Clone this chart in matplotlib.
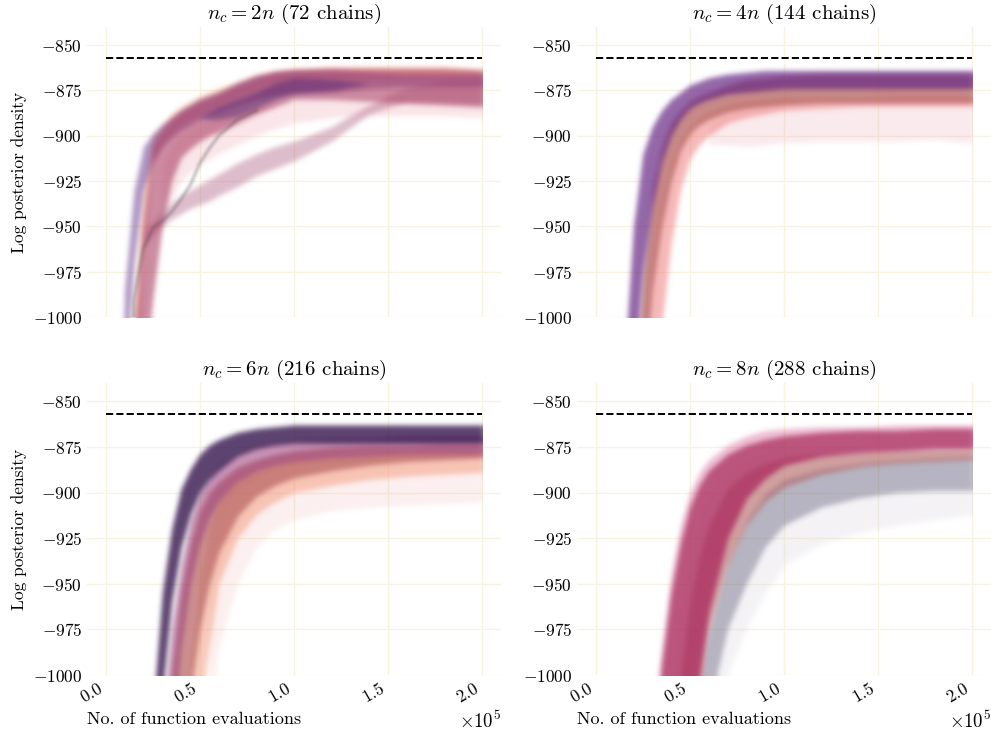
import numpy as np
import matplotlib
matplotlib.use("Agg")
import matplotlib.pyplot as plt
from matplotlib.colors import to_rgb

N = np.nan

# function evaluations, in units of 1e5
EVALS = [0.0, 0.05, 0.10, 0.15, 0.20, 0.25, 0.30, 0.35, 0.40, 0.45, 0.50,
         0.55, 0.60, 0.70, 0.80, 0.90, 1.00, 1.20, 1.40, 1.60, 1.80, 2.00]
SCALE = 1e5
REF_LOGP = -857.0

TITLES = [r"$n_c = 2n$ (72 chains)", r"$n_c = 4n$ (144 chains)",
          r"$n_c = 6n$ (216 chains)", r"$n_c = 8n$ (288 chains)"]

# --- nc = 2n : envelopes of the chain bundles (log posterior) ---
p1_purple_hi = [-1200, -1200, -985, -930, -906, -899, -894, -890, -886, -883, -880,
                -878, -876, -871, -867, -865, -864, -864, -865, -866, -866, -866]
p1_purple_lo = [-1200, -1200, -1040, -970, -930, -915, -906, -901, -897, -894, -891,
                -889, -887, -883, -880, -878, -876, -876, -874, -873, -873, -873]
p1_main_hi = [-1200, -1200, -1200, -1010, -945, -905, -897, -891, -887, -884, -881,
              -879, -877, -872, -868, -865, -864, -863, -863, -863, -863, -864]
p1_main_lo = [-1200, -1200, -1200, -1200, -1040, -990, -950, -925, -912, -907, -903,
              -900, -898, -893, -888, -884, -880, -880, -881, -882, -883, -884]
p1_peach_hi = [-1200, -1200, -1200, -1000, -930, -900, -894, -888, -884, -881, -878,
               -876, -874, -870, -866, -864, -863, -862, -862, -862, -862, -863]
p1_peach_lo = [-1200, -1200, -1200, -1100, -970, -915, -904, -898, -894, -891, -888,
               -885, -883, -878, -874, -871, -869, -869, -869, -869, -869, -870]
p1_core_hi = [N, N, N, N, N, N, N, N, N, N, -890,
              -887, -884, -880, -876, -871, -868, -869, -871, N, N, N]
p1_core_lo = [N, N, N, N, N, N, N, N, N, N, -890,
              -891, -891, -889, -885, -880, -877, -875, -871, N, N, N]
p1_branch_hi = [N, N, N, N, -952, -947, -942, -937, -933, -930, -927,
                -924, -921, -915, -910, -906, -903, -895, -883, -873, -869, -869]
p1_branch_lo = [N, N, N, N, -962, -955, -950, -946, -943, -940, -938,
                -936, -933, -928, -922, -918, -914, -903, -888, -881, -881, -882]
p1_haze_hi = [N, N, N, N, N, N, -915, -905, -900, -896, -893,
              -891, -889, -886, -884, -882, -880, -879, -879, -880, -880, -881]
p1_haze_lo = [N, N, N, N, N, N, -945, -935, -925, -920, -916,
              -913, -910, -905, -900, -896, -893, -890, -889, -889, -889, -890]
p1_grey = [-1200, -1200, -1200, -990, -962, -951, -947, -942, -935, -927, -915,
           -907, -900, -891, -886, N, N, N, N, N, N, N]

# --- nc = 4n ---
p2_purple_hi = [-1200, -1200, -1200, -1030, -950, -910, -895, -886, -880, -876, -872,
                -870, -868, -866, -865, -864, -864, -864, -864, -864, -864, -864]
p2_purple_lo = [-1200, -1200, -1200, -1200, -1040, -975, -940, -915, -900, -891, -885,
                -882, -880, -877, -876, -875, -874, -874, -874, -874, -874, -874]
p2_brown_hi = [-1200, -1200, -1200, -1200, -1060, -975, -928, -906, -893, -886, -881,
               -878, -876, -872, -869, -868, -867, -866, -866, -866, -866, -866]
p2_brown_lo = [-1200, -1200, -1200, -1200, -1200, -1040, -985, -950, -925, -908, -899,
               -894, -891, -887, -885, -884, -883, -882, -882, -882, -882, -882]
p2_pink_hi = [-1200, -1200, -1200, -1200, -1200, -1010, -965, -935, -915, -902, -895,
              -890, -887, -883, -881, -880, -879, -879, -879, -878, -878, -878]
p2_pink_lo = [-1200, -1200, -1200, -1200, -1200, -1200, -1060, -1005, -960, -930, -913,
              -905, -900, -893, -890, -888, -886, -885, -884, -884, -884, -884]
p2_haze_hi = [N, N, N, N, N, N, N, N, N, N, N,
              N, -895, -888, -886, -885, -884, -884, -884, -884, -884, -884]
p2_haze_lo = [N, N, N, N, N, N, N, N, N, N, N,
              N, -905, -905, -906, -905, -904, -903, -903, -903, -902, -904]

# --- nc = 6n ---
p3_dark_hi = [-1200, -1200, -1200, -1200, -1200, -1020, -955, -920, -898, -887, -879,
              -874, -871, -867, -865, -864, -863, -863, -863, -863, -863, -863]
p3_dark_lo = [-1200, -1200, -1200, -1200, -1200, -1200, -1010, -960, -930, -912, -900,
              -893, -888, -880, -876, -874, -873, -873, -873, -873, -873, -873]
p3_magenta_hi = [-1200, -1200, -1200, -1200, -1200, -1200, -1030, -975, -940, -915, -900,
                 -891, -885, -878, -874, -872, -871, -870, -870, -869, -869, -869]
p3_magenta_lo = [-1200, -1200, -1200, -1200, -1200, -1200, -1200, -1040, -985, -950, -928,
                 -914, -905, -894, -888, -885, -883, -881, -880, -879, -879, -879]
p3_brown_hi = [-1200, -1200, -1200, -1200, -1200, -1200, -1060, -1000, -955, -928, -910,
               -900, -894, -886, -882, -879, -877, -875, -874, -874, -873, -873]
p3_brown_lo = [-1200, -1200, -1200, -1200, -1200, -1200, -1200, -1200, -1060, -1010, -975,
               -950, -933, -913, -902, -896, -892, -888, -885, -883, -882, -881]
p3_peach_hi = [-1200, -1200, -1200, -1200, -1200, -1200, -1200, -1200, -1060, -990, -945,
               -920, -905, -893, -887, -884, -882, -880, -879, -878, -878, -878]
p3_peach_lo = [-1200, -1200, -1200, -1200, -1200, -1200, -1200, -1200, -1200, -1060, -1020,
               -985, -950, -925, -912, -905, -900, -896, -893, -891, -890, -889]
p3_haze_lo = [N, N, N, N, N, N, N, N, N, N, N,
              -1030, -985, -950, -930, -920, -915, -910, -908, -907, -906, -905]

# --- nc = 8n ---
p4_pink_hi = [-1200, -1200, -1200, -1200, -1200, -1200, -1030, -985, -945, -918, -900,
              -889, -882, -874, -869, -866, -865, -864, -864, -863, -863, -863]
p4_crimson_hi = [-1200, -1200, -1200, -1200, -1200, -1200, -1060, -995, -955, -928, -908,
                 -896, -888, -879, -874, -871, -869, -867, -866, -866, -865, -865]
p4_crimson_lo = [-1200, -1200, -1200, -1200, -1200, -1200, -1200, -1200, -1200, -1060, -1030,
                 -1000, -965, -925, -903, -892, -885, -880, -878, -877, -876, -876]
p4_brown_hi = [-1200, -1200, -1200, -1200, -1200, -1200, -1200, -1200, -1050, -1000, -960,
               -935, -918, -898, -889, -884, -881, -878, -877, -876, -876, -876]
p4_brown_lo = [-1200, -1200, -1200, -1200, -1200, -1200, -1200, -1200, -1200, -1200, -1060,
               -1010, -975, -940, -918, -905, -897, -890, -886, -884, -883, -882]
p4_grey_hi = [-1200, -1200, -1200, -1200, -1200, -1200, -1200, -1200, -1200, -1200, -1055,
              -1005, -975, -938, -915, -901, -893, -887, -884, -882, -881, -880]
p4_grey_lo = [-1200, -1200, -1200, -1200, -1200, -1200, -1200, -1200, -1200, -1200, -1080,
              -1060, -1020, -975, -950, -930, -918, -908, -903, -900, -899, -899]
p4_haze_lo = [N, N, N, N, N, N, N, N, N, N, N,
              N, -1040, -1000, -975, -955, -940, -928, -922, -918, -915, -912]

plt.rcParams.update({
    "font.family": "serif",
    "font.serif": ["cmr10"],
    "mathtext.fontset": "cm",
    "axes.formatter.use_mathtext": True,
    "axes.unicode_minus": True,
})


def _blur(a, sigma):
    r = int(3 * sigma)
    k = np.exp(-0.5 * (np.arange(-r, r + 1) / sigma) ** 2)
    k /= k.sum()
    a = np.apply_along_axis(np.convolve, 0, a, k, mode="same")
    a = np.apply_along_axis(np.convolve, 1, a, k, mode="same")
    return a


def soft(color, sigma=1.8, clipped=True):
    # feathers the alpha of a bundle; the right border (last evaluation) and,
    # for bundles cut by the axes, the bottom border stay crisp
    rgb = to_rgb(color)

    def f(im, dpi):
        pad = int(3 * sigma) + 1
        a = np.pad(im[:, :, 3], ((pad, 0 if clipped else pad), (pad, 0)))
        if clipped:
            a = np.pad(a, ((0, pad), (0, pad)), mode="edge")
            a = _blur(a, sigma)[:-pad, :-pad]
            oy = 0
        else:
            a = np.pad(a, ((0, 0), (0, pad)), mode="edge")
            a = _blur(a, sigma)[:, :-pad]
            oy = -pad
        out = np.empty(a.shape + (4,))
        out[..., :3] = rgb
        out[..., 3] = np.clip(a, 0, 1)
        return out, -pad, oy
    return f


x = np.array(EVALS) * SCALE

# (lower, upper, colour, alpha, reaches the axes floor) per bundle, back to front
panels = [
    [(p1_haze_lo, p1_haze_hi, "#e88a9a", 0.22, False),
     (p1_branch_lo, p1_branch_hi, "#aa587c", 0.40, False),
     (p1_peach_lo, p1_peach_hi, "#f4a27e", 0.55, True),
     (p1_purple_lo, p1_purple_hi, "#6e3e92", 0.55, True),
     (p1_main_lo, p1_main_hi, "#ad4468", 0.62, True),
     (p1_core_lo, p1_core_hi, "#4a1e6e", 0.45, False)],
    [(p2_haze_lo, p2_haze_hi, "#e8a0b0", 0.22, False),
     (p2_pink_lo, p2_pink_hi, "#f07f80", 0.55, True),
     (p2_brown_lo, p2_brown_hi, "#b4625f", 0.75, True),
     (p2_purple_lo, p2_purple_hi, "#662684", 0.70, True)],
    [(p3_haze_lo, p3_peach_hi, "#f3b0b0", 0.20, True),
     (p3_peach_lo, p3_peach_hi, "#f3a084", 0.55, True),
     (p3_brown_lo, p3_brown_hi, "#b86464", 0.72, True),
     (p3_magenta_lo, p3_magenta_hi, "#9a3a78", 0.55, True),
     (p3_dark_lo, p3_dark_hi, "#34144c", 0.80, True)],
    [(p4_haze_lo, p4_grey_lo, "#c8c0d0", 0.20, True),
     (p4_grey_lo, p4_grey_hi, "#5e5878", 0.45, True),
     (p4_brown_lo, p4_brown_hi, "#b06060", 0.60, True),
     (p4_crimson_lo, p4_pink_hi, "#d45a92", 0.40, True),
     (p4_crimson_lo, p4_crimson_hi, "#a62858", 0.70, True)],
]

W, H = 991, 731
rects = [(87, 317, 290), (577, 317, 290), (87, 675, 292), (577, 675, 292)]

fig = plt.figure(figsize=(W / 100, H / 100), dpi=100)
for i, (left, bottom, height) in enumerate(rects):
    ax = fig.add_axes([left / W, (H - bottom) / H, 414 / W, height / H])
    for lo, hi, col, a, floor in panels[i]:
        poly = ax.fill_between(x, lo, hi, color=col, alpha=a, lw=0)
        poly.set_agg_filter(soft(col, clipped=floor))
    if i == 0:
        ln, = ax.plot(x, p1_grey, color="#45454f", lw=2.5, alpha=0.3)
        ln.set_agg_filter(soft("#45454f", 1.2))
    ax.hlines(REF_LOGP, 0, 2 * SCALE, colors="k", linestyles="--", lw=1.4)

    ax.set_xlim(-0.1 * SCALE, 2.1 * SCALE)
    ax.set_ylim(-1000, -840)
    ax.set_yticks([-1000, -975, -950, -925, -900, -875, -850])
    ax.set_xticks([0, 0.5e5, 1e5, 1.5e5, 2e5])
    ax.ticklabel_format(axis="x", style="sci", scilimits=(0, 0))
    ax.grid(color="#f6f3e2", lw=1)
    ax.set_axisbelow(True)
    for s in ax.spines.values():
        s.set_visible(False)
    ax.tick_params(length=0, labelsize=12.5)
    ax.xaxis.get_offset_text().set_fontsize(13.5)
    ax.set_title(TITLES[i], fontsize=15)
    if i % 2 == 0:
        ax.set_ylabel("Log posterior density", fontsize=12.5)
    if i < 2:
        ax.tick_params(labelbottom=False)
    else:
        ax.set_xlabel("No. of function evaluations", fontsize=13, loc="left")
        for lab in ax.get_xticklabels():
            lab.set_rotation(30)
            lab.set_ha("right")

fig.savefig("out.png", dpi=100)
